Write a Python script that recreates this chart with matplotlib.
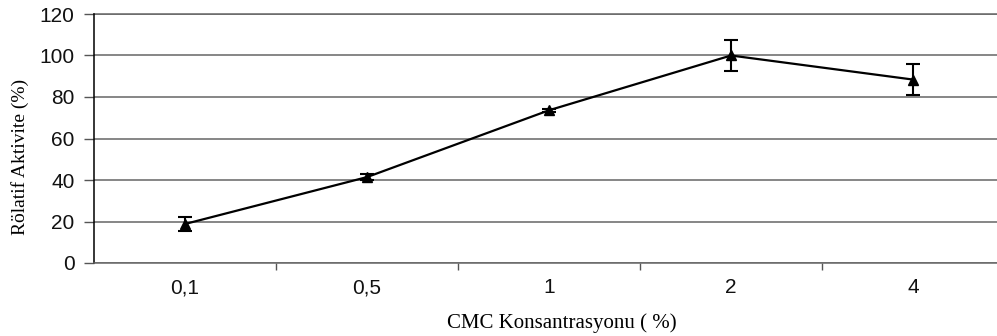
import matplotlib
matplotlib.use("Agg")
import matplotlib.pyplot as plt
import numpy as np

categories = ["0,1", "0,5", "1", "2", "4"]
values = [18.8, 41.4, 73.6, 100.0, 88.4]
errors = [3.3, 1.5, 0.8, 7.7, 7.4]
yticks = [0, 20, 40, 60, 80, 100, 120]

fig = plt.figure(figsize=(9.97, 3.36), dpi=100)
ax = fig.add_axes([94/997, 1 - 263/336, 910/997, 249/336])

x = np.arange(len(categories))
ax.errorbar(x, values, yerr=errors, color="black", lw=1.6, marker="^", ms=7.5,
            ecolor="black", elinewidth=1.5, capsize=5, capthick=1.5, zorder=3)

ax.set_xlim(-0.5, len(categories) - 0.5)
ax.set_ylim(0, 120)
ax.set_yticks(yticks)
ax.set_yticklabels([str(v) for v in yticks], fontsize=15, family="Liberation Sans", color="#111111")
ax.set_xticks(x)
ax.set_xticklabels(categories, fontsize=15, family="Liberation Sans", color="#111111")
ax.tick_params(axis="x", which="major", length=0, pad=11)
ax.set_xticks(np.arange(0.5, len(categories) - 1, 1), minor=True)
ax.tick_params(axis="x", which="minor", length=5, color="#555555", width=1)
ax.tick_params(axis="y", length=7, color="#555555", width=1, pad=7)

ax.grid(axis="y", color="#666666", lw=1.1)
ax.set_axisbelow(True)
for s in ["top", "right"]:
    ax.spines[s].set_visible(False)
ax.spines["left"].set_color("black")
ax.spines["left"].set_linewidth(1.1)
ax.spines["bottom"].set_color("#666666")
ax.spines["bottom"].set_linewidth(1.1)
ax.axhline(120, color="#666666", lw=1.1, clip_on=False)

ax.set_ylabel("Rölatif Aktivite (%)", family="Liberation Serif", fontsize=14)
ax.yaxis.set_label_coords(-0.071, 0.426)
ax.set_xlabel("CMC Konsantrasyonu ( %)", family="Liberation Serif", fontsize=15)
ax.xaxis.set_label_coords(0.514, -0.2)

fig.savefig("out.png", dpi=100)
